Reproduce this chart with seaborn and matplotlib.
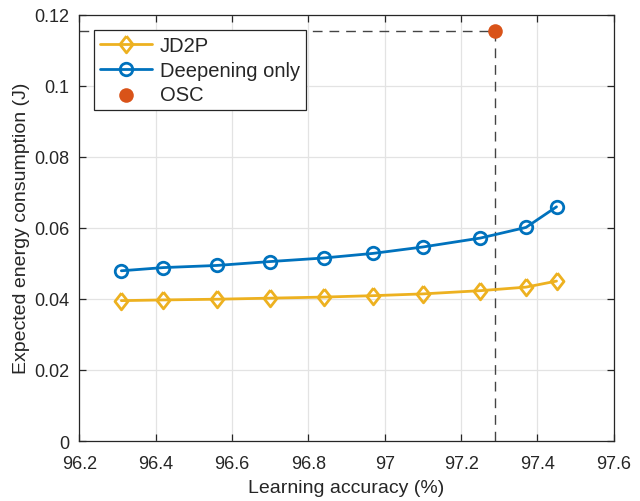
import matplotlib
matplotlib.use("Agg")
import matplotlib.pyplot as plt
import seaborn as sns
import pandas as pd

# Learning accuracy (%) for each operating point
accuracy = [96.31, 96.42, 96.56, 96.70, 96.84, 96.97, 97.10, 97.25, 97.37, 97.45]
# Expected energy consumption (J)
jd2p = [0.0395, 0.0397, 0.0399, 0.0402, 0.0405, 0.0409, 0.0414, 0.0423, 0.0433, 0.0450]
deepening = [0.0479, 0.0488, 0.0494, 0.0505, 0.0515, 0.0528, 0.0546, 0.0571, 0.0601, 0.0659]
# One-shot compression baseline
osc_acc = [97.29]
osc_energy = [0.1154]

x_ticks = [96.2, 96.4, 96.6, 96.8, 97.0, 97.2, 97.4, 97.6]
x_tick_labels = ["96.2", "96.4", "96.6", "96.8", "97", "97.2", "97.4", "97.6"]
y_ticks = [0, 0.02, 0.04, 0.06, 0.08, 0.1, 0.12]
y_tick_labels = ["0", "0.02", "0.04", "0.06", "0.08", "0.1", "0.12"]

sns.set_theme(style="white")
plt.rcParams["font.family"] = ["Liberation Sans", "DejaVu Sans"]

YELLOW = "#EDB120"
BLUE = "#0072BD"
ORANGE = "#D95319"
AXIS = "#262626"

# Slightly narrow diamond marker
DIAMOND = [(0, 1), (0.78, 0), (0, -1), (-0.78, 0), (0, 1)]

df = pd.DataFrame({"acc": accuracy, "jd2p": jd2p, "deep": deepening})
osc = pd.DataFrame({"acc": osc_acc, "energy": osc_energy})

fig = plt.figure(figsize=(6.4, 5.02), dpi=100)
ax = fig.add_axes([0.124, 0.1195, 0.835, 0.8495])

xmin, xmax = x_ticks[0], x_ticks[-1]
ymin, ymax = y_ticks[0], y_ticks[-1]

# Dashed guide lines from the OSC point to the axes
ax.plot([xmin, osc_acc[0]], [osc_energy[0], osc_energy[0]], ls=(0, (7, 5)),
        color="#444444", lw=1.0, zorder=2)
ax.plot([osc_acc[0], osc_acc[0]], [ymin, osc_energy[0]], ls=(0, (7, 5)),
        color="#444444", lw=1.0, zorder=2)

sns.lineplot(data=df, x="acc", y="jd2p", ax=ax, color=YELLOW, lw=2,
             marker=DIAMOND, markersize=12, markerfacecolor="none",
             markeredgecolor=YELLOW, markeredgewidth=2, label="JD2P", zorder=3)
sns.lineplot(data=df, x="acc", y="deep", ax=ax, color=BLUE, lw=2,
             marker="o", markersize=9, markerfacecolor="none",
             markeredgecolor=BLUE, markeredgewidth=2, label="Deepening only", zorder=3)
sns.scatterplot(data=osc, x="acc", y="energy", ax=ax, color=ORANGE, s=110,
                edgecolor=ORANGE, linewidth=0, label="OSC", zorder=4)

ax.set_xlim(xmin, xmax)
ax.set_ylim(ymin, ymax)
ax.set_xticks(x_ticks)
ax.set_xticklabels(x_tick_labels)
ax.set_yticks(y_ticks)
ax.set_yticklabels(y_tick_labels)

ax.grid(True, color="#E3E3E3", lw=0.9)
ax.set_axisbelow(True)
for s in ax.spines.values():
    s.set_color(AXIS)
    s.set_linewidth(0.9)
ax.tick_params(direction="in", length=5, width=0.9, colors=AXIS, labelsize=13,
               top=True, right=True, bottom=True, left=True)
ax.tick_params(axis="x", pad=10)
ax.tick_params(axis="y", pad=7)
for lbl in ax.get_xticklabels() + ax.get_yticklabels():
    lbl.set_color("#262626")

ax.set_xlabel("Learning accuracy (%)", fontsize=14, color="#262626", labelpad=5)
ax.set_ylabel("Expected energy consumption (J)", fontsize=14, color="#262626", labelpad=3)

leg = ax.legend(loc="upper left", bbox_to_anchor=(0.0275, 0.964), borderaxespad=0,
                fontsize=14.5, frameon=True, fancybox=False, handlelength=2.6,
                handletextpad=0.35, labelspacing=0.28, borderpad=0.3)
leg.get_frame().set_edgecolor(AXIS)
leg.get_frame().set_linewidth(0.9)
leg.get_frame().set_facecolor("white")
leg.get_frame().set_alpha(1)

fig.savefig("out.png", dpi=100, facecolor="white")
